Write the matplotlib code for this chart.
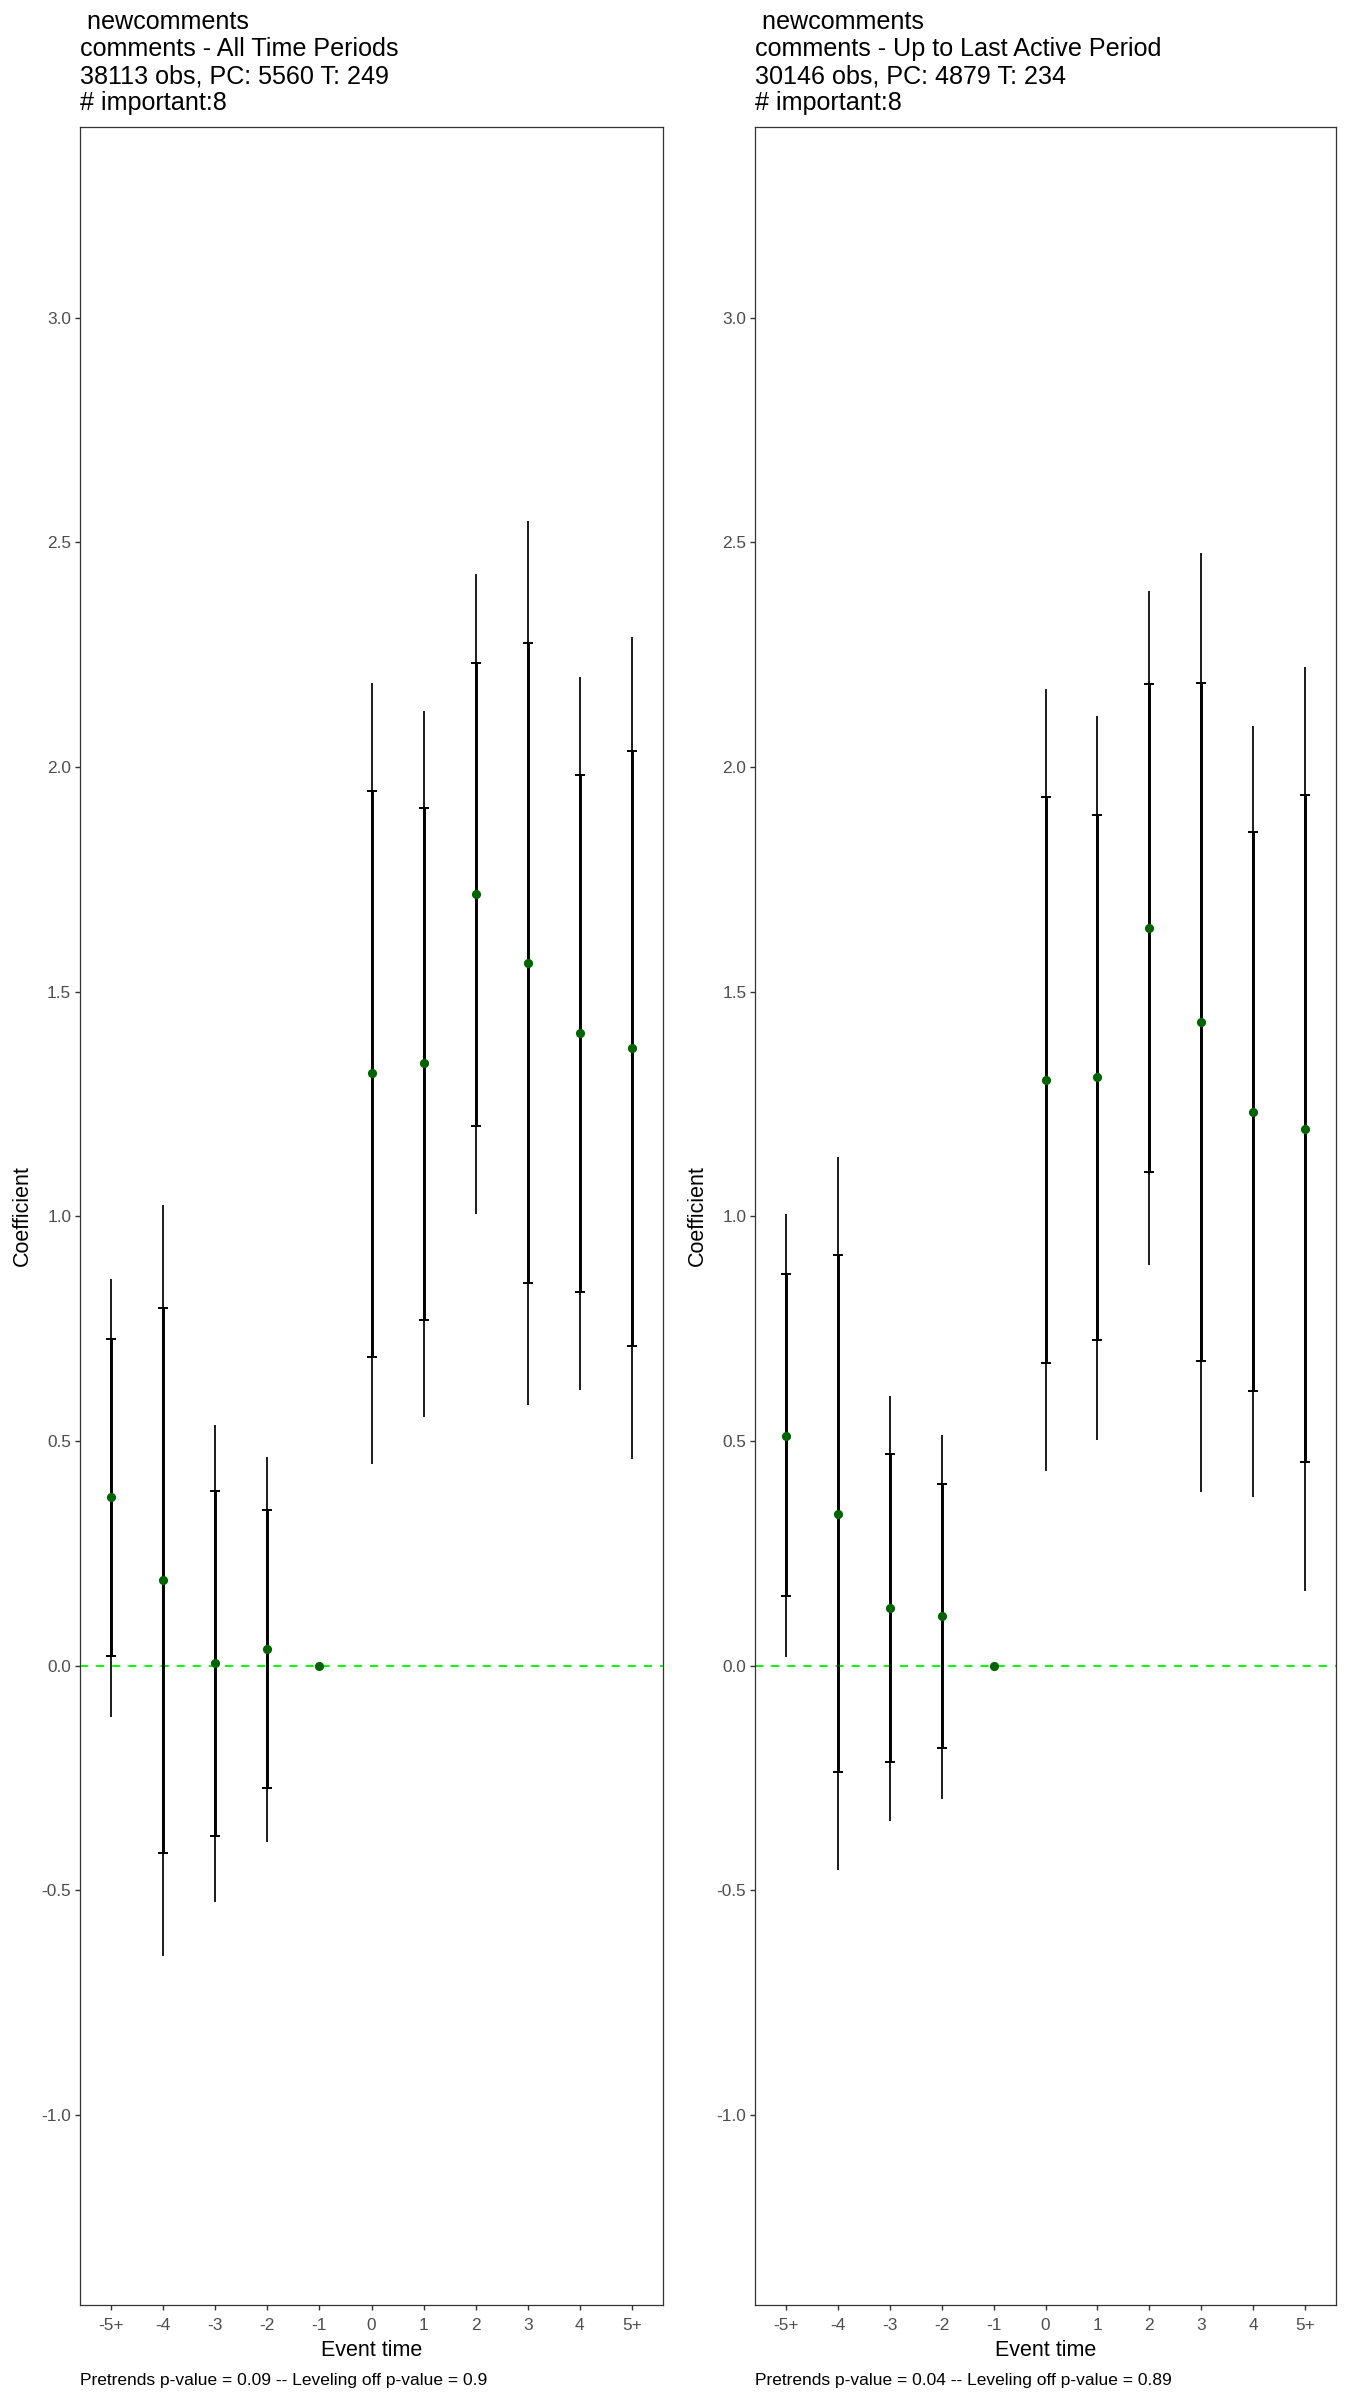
import matplotlib
matplotlib.use('Agg')
import matplotlib.pyplot as plt
import numpy as np

plt.rcParams['font.family'] = ['Liberation Sans', 'DejaVu Sans']
plt.rcParams['lines.scale_dashes'] = False

event_labels = ['-5+', '-4', '-3', '-2', '-1', '0', '1', '2', '3', '4', '5+']
y_ticks = [-1.0, -0.5, 0.0, 0.5, 1.0, 1.5, 2.0, 2.5, 3.0]

# Left panel: All Time Periods
left_coef = [0.375, 0.190, 0.005, 0.037, 0.0, 1.318, 1.340, 1.717, 1.564, 1.408, 1.374]
left_inner_lo = [0.021, -0.417, -0.380, -0.273, 0.0, 0.687, 0.769, 1.200, 0.851, 0.832, 0.711]
left_inner_hi = [0.727, 0.796, 0.389, 0.347, 0.0, 1.947, 1.909, 2.232, 2.276, 1.982, 2.036]
left_outer_lo = [-0.114, -0.647, -0.527, -0.392, 0.0, 0.448, 0.553, 1.005, 0.580, 0.614, 0.460]
left_outer_hi = [0.861, 1.026, 0.536, 0.464, 0.0, 2.187, 2.124, 2.429, 2.547, 2.201, 2.289]
left_title = " newcomments\ncomments - All Time Periods\n38113 obs, PC: 5560 T: 249\n# important:8"
left_caption = "Pretrends p-value = 0.09 -- Leveling off p-value = 0.9"

# Right panel: Up to Last Active Period
right_coef = [0.512, 0.337, 0.128, 0.110, 0.0, 1.304, 1.309, 1.641, 1.432, 1.233, 1.194]
right_inner_lo = [0.154, -0.237, -0.214, -0.184, 0.0, 0.674, 0.725, 1.098, 0.677, 0.611, 0.452]
right_inner_hi = [0.871, 0.914, 0.470, 0.404, 0.0, 1.934, 1.893, 2.184, 2.186, 1.854, 1.938]
right_outer_lo = [0.019, -0.455, -0.346, -0.296, 0.0, 0.434, 0.503, 0.891, 0.387, 0.376, 0.167]
right_outer_hi = [1.006, 1.132, 0.600, 0.514, 0.0, 2.174, 2.114, 2.391, 2.476, 2.091, 2.222]
right_title = " newcomments\ncomments - Up to Last Active Period\n30146 obs, PC: 4879 T: 234\n# important:8"
right_caption = "Pretrends p-value = 0.04 -- Leveling off p-value = 0.89"

W, H = 1350, 2400
fig = plt.figure(figsize=(13.5, 24), dpi=100)

def px_box(x0, x1, ytop, ybot):
    return [x0 / W, 1 - ybot / H, (x1 - x0) / W, (ybot - ytop) / H]

panels = [
    (px_box(80, 663, 127, 2305), left_coef, left_inner_lo, left_inner_hi,
     left_outer_lo, left_outer_hi, left_title, left_caption),
    (px_box(755, 1336, 127, 2305), right_coef, right_inner_lo, right_inner_hi,
     right_outer_lo, right_outer_hi, right_title, right_caption),
]

frame_col = '#333333'
tick_text_col = '#4D4D4D'

for box, coef, ilo, ihi, olo, ohi, title, caption in panels:
    ax = fig.add_axes(box)
    x = np.arange(len(event_labels))
    coef = np.array(coef); ilo = np.array(ilo); ihi = np.array(ihi)
    olo = np.array(olo); ohi = np.array(ohi)
    # reference line
    ax.axhline(0, color='#00FF00', lw=1.4, dashes=(5.8, 5.8), zorder=1)
    m = (ohi - olo) > 0
    # outer (thin) interval
    ax.vlines(x[m], olo[m], ohi[m], color='black', lw=1.25, zorder=2)
    # inner (thick) interval
    ax.vlines(x[m], ilo[m], ihi[m], color='black', lw=2.1, zorder=3)
    # caps at inner bounds
    ax.plot(x[m], ilo[m], ls='none', marker='_', ms=7.8, mew=1.4, color='black', zorder=3)
    ax.plot(x[m], ihi[m], ls='none', marker='_', ms=7.8, mew=1.4, color='black', zorder=3)
    # points
    ax.plot(x, coef, ls='none', marker='o', ms=6.6, mew=0, color='#006400', zorder=4)

    ax.set_xlim(-0.6, 10.6)
    ax.set_ylim(-1.423, 3.424)
    ax.set_xticks(x)
    ax.set_xticklabels(event_labels)
    ax.set_yticks(y_ticks)
    ax.set_yticklabels([f'{v:.1f}' for v in y_ticks])
    ax.tick_params(axis='both', direction='out', length=3.8, width=1.0,
                   color=frame_col, labelcolor=tick_text_col, labelsize=12.4)
    ax.tick_params(axis='x', pad=5.5)
    ax.tick_params(axis='y', pad=2.5)
    for sp in ax.spines.values():
        sp.set_color(frame_col)
        sp.set_linewidth(0.9)
    ax.set_xlabel('Event time', fontsize=15.5, color='black', labelpad=5)
    ax.set_ylabel('Coefficient', fontsize=15.5, color='black', labelpad=6)

    left_frac = box[0]
    fig.text(left_frac, 1 - 10 / H, title, ha='left', va='top', fontsize=18.1,
             linespacing=1.16, color='black')
    fig.text(left_frac, 1 - 2380 / H, caption, ha='left', va='center',
             fontsize=12.5, color='black')

fig.savefig('out.png', dpi=100)
